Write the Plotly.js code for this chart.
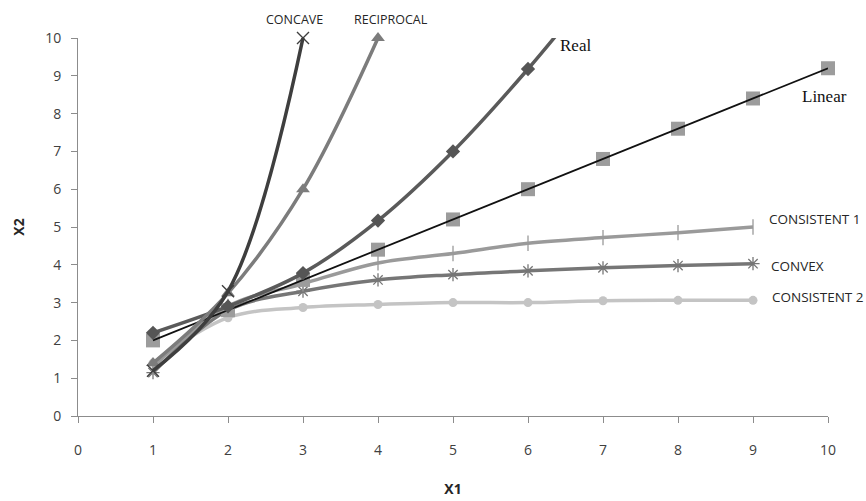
<!DOCTYPE html>
<html>
<head>
<meta charset="utf-8">
<script src="https://cdn.plot.ly/plotly-3.0.1.min.js"></script>
<style>html,body{margin:0;padding:0;background:#fff;}#chart{width:866px;height:501px;}</style>
</head>
<body>
<div id="chart"></div>
<script>
// ---- data ----
var concaveX = [1, 2, 3];
var concaveY = [1.2, 3.3, 10];

var reciprocalX = [1, 2, 3, 4];
var reciprocalY = [1.4, 3.25, 6.0, 10];

var realX = [1, 2, 3, 4, 5, 6, 7];
var realY = [2.2, 2.9, 3.78, 5.17, 7.0, 9.18, 11.6];

var linearX = [1, 2, 3, 4, 5, 6, 7, 8, 9, 10];
var linearY = [2.0, 2.8, 3.6, 4.4, 5.2, 6.0, 6.8, 7.6, 8.4, 9.2];

var cons1X = [1, 2, 3, 4, 5, 6, 7, 8, 9];
var cons1Y = [1.3, 2.9, 3.5, 4.05, 4.3, 4.57, 4.72, 4.85, 5.0];

var convexX = [1, 2, 3, 4, 5, 6, 7, 8, 9];
var convexY = [1.15, 2.8, 3.3, 3.6, 3.74, 3.84, 3.92, 3.98, 4.03];

var cons2X = [1, 2, 3, 4, 5, 6, 7, 8, 9];
var cons2Y = [1.4, 2.6, 2.87, 2.95, 3.0, 3.0, 3.05, 3.06, 3.06];

var xTicks = [0, 1, 2, 3, 4, 5, 6, 7, 8, 9, 10];
var yTicks = [0, 1, 2, 3, 4, 5, 6, 7, 8, 9, 10];

var seriesLabels = ["CONCAVE", "RECIPROCAL", "Real", "Linear", "CONSISTENT 1", "CONVEX", "CONSISTENT 2"];

// ---- traces ----
var traces = [
  {x: cons2X, y: cons2Y, mode: 'lines+markers', line: {color: '#c4c4c4', width: 3.5, shape: 'spline'},
   marker: {symbol: 'circle', size: 9, color: '#c4c4c4'}, cliponaxis: false},
  {x: convexX, y: convexY, mode: 'lines+markers', line: {color: '#767676', width: 3.5, shape: 'spline'},
   marker: {symbol: 'asterisk-open', size: 11, line: {color: '#8a8a8a', width: 1.3}}, cliponaxis: false},
  {x: cons1X, y: cons1Y, mode: 'lines+markers', line: {color: '#9a9a9a', width: 3.5, shape: 'spline'},
   marker: {symbol: 'line-ns-open', size: 11, line: {color: '#8a8a8a', width: 1.3}}, cliponaxis: false},
  {x: linearX, y: linearY, mode: 'markers',
   marker: {symbol: 'square', size: 14, color: '#9c9c9c'}, cliponaxis: false},
  {x: linearX, y: linearY, mode: 'lines', line: {color: '#111111', width: 1.8}, cliponaxis: false},
  {x: realX, y: realY, mode: 'lines+markers', line: {color: '#5a5a5a', width: 3.5, shape: 'spline'},
   marker: {symbol: 'diamond', size: 11, color: '#555555'}, cliponaxis: true},
  {x: reciprocalX, y: reciprocalY, mode: 'lines+markers', line: {color: '#7c7c7c', width: 3.5, shape: 'spline'},
   marker: {symbol: 'triangle-up', size: 12, color: '#7c7c7c'}, cliponaxis: false},
  {x: concaveX, y: concaveY, mode: 'lines+markers', line: {color: '#3e3e3e', width: 3.5, shape: 'spline'},
   marker: {symbol: 'x-thin-open', size: 12, line: {color: '#6a6a6a', width: 1.4}}, cliponaxis: false}
];
traces.forEach(function (t) { t.type = 'scatter'; t.showlegend = false; t.hoverinfo = 'skip'; });

var sans = {family: 'Open Sans, Lato, sans-serif', size: 13.5, color: '#262626'};
var sansTop = {family: 'Open Sans, Lato, sans-serif', size: 12.5, color: '#262626'};
var serif = {family: 'Liberation Serif, Times New Roman, serif', size: 17, color: '#111111'};

var annotations = [
  {text: seriesLabels[0], x: 2.89, y: 1.049, yref: 'paper', xanchor: 'center', yanchor: 'middle', font: sansTop},
  {text: seriesLabels[1], x: 4.17, y: 1.049, yref: 'paper', xanchor: 'center', yanchor: 'middle', font: sansTop},
  {text: seriesLabels[2], x: 6.4, y: 0.98, yref: 'paper', xanchor: 'left', yanchor: 'middle', font: serif},
  {text: seriesLabels[3], x: 9.63, y: 0.844, yref: 'paper', xanchor: 'left', yanchor: 'middle', font: serif},
  {text: seriesLabels[4], x: 9.19, y: 0.52, yref: 'paper', xanchor: 'left', yanchor: 'middle', font: sans},
  {text: seriesLabels[5], x: 9.21, y: 0.397, yref: 'paper', xanchor: 'left', yanchor: 'middle', font: sans},
  {text: seriesLabels[6], x: 9.23, y: 0.315, yref: 'paper', xanchor: 'left', yanchor: 'middle', font: sans}
].map(function (a) { a.xref = 'x'; a.showarrow = false; return a; });

var layout = {
  width: 866, height: 501,
  margin: {l: 78, r: 38, t: 38, b: 85, pad: 0},
  paper_bgcolor: '#ffffff', plot_bgcolor: '#ffffff',
  font: {family: 'Open Sans, Lato, sans-serif', size: 14, color: '#404040'},
  xaxis: {
    range: [0, 10], tickvals: xTicks, ticktext: xTicks.map(String),
    tickfont: {size: 14, color: '#404040'},
    showgrid: false, zeroline: false, showline: true, linecolor: '#8c8c8c', linewidth: 1,
    ticks: 'outside', ticklen: 6, tickcolor: '#8c8c8c', ticklabelstandoff: 15,
    title: {text: 'X1', font: {family: 'Open Sans, sans-serif', size: 14, color: '#262626', weight: 'bold'}, standoff: 26},
    automargin: false, fixedrange: true
  },
  yaxis: {
    range: [0, 10], tickvals: yTicks, ticktext: yTicks.map(String),
    tickfont: {size: 14, color: '#404040'},
    showgrid: false, zeroline: false, showline: true, linecolor: '#8c8c8c', linewidth: 1,
    ticks: 'outside', ticklen: 6, tickcolor: '#8c8c8c', ticklabelstandoff: 7,
    title: {text: 'X2', font: {family: 'Open Sans, sans-serif', size: 14, color: '#262626', weight: 'bold'}, standoff: 17},
    automargin: false, fixedrange: true
  },
  annotations: annotations
};

Plotly.newPlot('chart', traces, layout, {displayModeBar: false, staticPlot: true});
</script>
</body>
</html>
